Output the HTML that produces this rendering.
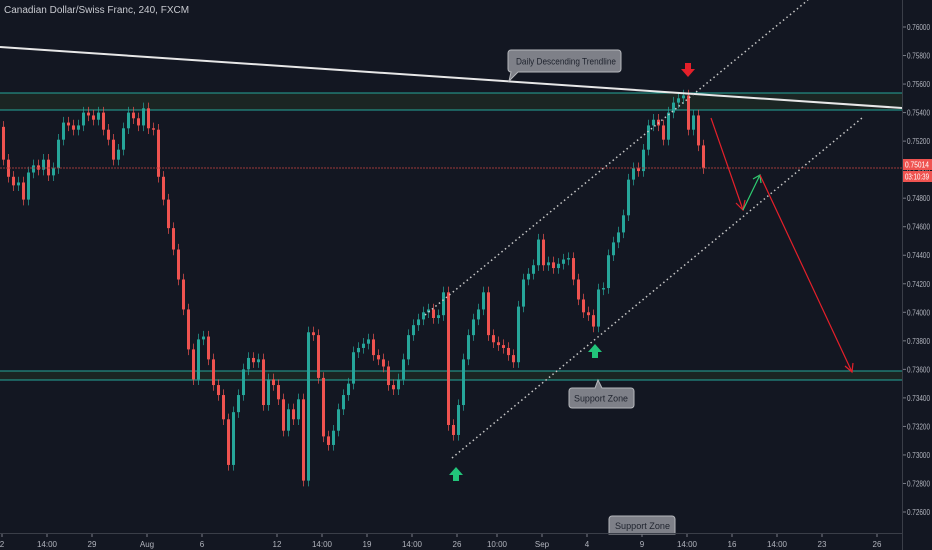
<!DOCTYPE html>
<html><head><meta charset="utf-8"><style>
body{margin:0;background:#131722;width:932px;height:550px;overflow:hidden;font-family:"Liberation Sans",sans-serif}
svg{display:block}
</style></head><body>
<svg id="chart" width="932" height="550" xmlns="http://www.w3.org/2000/svg">
<rect x="0" y="0" width="932" height="550" fill="#131722"/>
<g id="zones"></g>
<g id="candles"></g>
<g id="draw"></g>
<g id="axes"></g>
</svg>
<script>
const closes=[0.7507,0.7495,0.7489,0.7491,0.7479,0.7498,0.7503,0.7500,0.7507,0.7496,0.7501,0.7521,0.7533,0.7531,0.7528,0.7531,0.7540,0.7538,0.7535,0.7540,0.7528,0.7521,0.7507,0.7514,0.7529,0.7540,0.7536,0.7531,0.7543,0.7529,0.7528,0.7495,0.7479,0.7459,0.7444,0.7423,0.7402,0.7374,0.7353,0.7381,0.7383,0.7367,0.7349,0.7342,0.7325,0.7293,0.7330,0.7342,0.7360,0.7368,0.7365,0.7367,0.7335,0.7353,0.7349,0.7339,0.7317,0.7332,0.7325,0.7339,0.7282,0.7386,0.7384,0.7354,0.7313,0.7307,0.7317,0.7332,0.7342,0.7350,0.7372,0.7375,0.7378,0.7381,0.7370,0.7367,0.7362,0.7349,0.7346,0.7353,0.7367,0.7384,0.7391,0.7395,0.7400,0.7402,0.7396,0.7398,0.7414,0.7321,0.7314,0.7335,0.7367,0.7384,0.7395,0.7402,0.7414,0.7384,0.7379,0.7377,0.7375,0.7370,0.7365,0.7404,0.7423,0.7427,0.7433,0.7451,0.7433,0.7435,0.7431,0.7434,0.7437,0.7438,0.7423,0.7409,0.7400,0.7398,0.7390,0.7416,0.7417,0.7440,0.7449,0.7456,0.7468,0.7493,0.7501,0.7499,0.7514,0.7531,0.7535,0.7531,0.7521,0.7540,0.7547,0.7550,0.7552,0.7528,0.7538,0.7517,0.7501];
const firstOpen=0.7530;
const priceTicks=[0.760,0.758,0.756,0.754,0.752,0.750,0.748,0.746,0.744,0.742,0.740,0.738,0.736,0.734,0.732,0.730,0.728,0.726];
const timeLabels=["2","14:00","29","Aug","6","12","14:00","19","14:00","26","10:00","Sep","4","9","14:00","16","14:00","23","26"];
const timeIdx=[0,9,18,29,40,55,64,73,82,91,99,108,117,128,137,146,155,164,175];
const NS="http://www.w3.org/2000/svg";
const yOf=p=>27+(0.760-p)*14265;
const xOf=i=>2+i*5;
function mk(parent,tag,attrs){const e=document.createElementNS(NS,tag);for(const k in attrs)e.setAttribute(k,attrs[k]);document.getElementById(parent).appendChild(e);return e;}
let z=mk('zones','rect',{x:0,y:93,width:902,height:17,fill:'#1b2523'});


z=mk('zones','rect',{x:0,y:371,width:902,height:9,fill:'#1b2523'});


[93,110,371,380].forEach(y=>{const l=mk('zones','line',{x1:0,x2:902,y1:y,y2:y,stroke:'#26a69a','stroke-width':1});

});
let prev=firstOpen;
closes.forEach((c,i)=>{const o=prev;prev=c;const up=c>=o;const col=up?'#26a69a':'#ef5350';
const x=xOf(i);const hi=Math.max(o,c)+0.0004,lo=Math.min(o,c)-0.0004;
const w=mk('candles','line',{x1:x+1.5,x2:x+1.5,y1:yOf(hi),y2:yOf(lo),stroke:col,'stroke-width':1,opacity:0.7});


const yt=yOf(Math.max(o,c)),yb=yOf(Math.min(o,c));
const b=mk('candles','rect',{x:x,y:yt,width:3,height:Math.max(1,yb-yt),fill:col});

});
const d=document.getElementById('draw');
d.innerHTML=`
<line x1="0" y1="47" x2="902" y2="108" stroke="#e8e8e8" stroke-width="2"/>
<line x1="425" y1="315" x2="808" y2="0" stroke="#c8c8c8" stroke-width="1.5" stroke-dasharray="1.5 3"/>
<line x1="452" y1="458" x2="862" y2="118" stroke="#c8c8c8" stroke-width="1.5" stroke-dasharray="1.5 3"/>
<line x1="0" y1="168" x2="902" y2="168" stroke="#9c3a3a" stroke-width="1" stroke-dasharray="2 1"/>
<g stroke-width="1.2" fill="none">
<line x1="711" y1="118" x2="743" y2="210" stroke="#e5202a"/>
<polyline points="736,203 743,210 745,200" stroke="#e5202a"/>
<line x1="743" y1="210" x2="760" y2="175" stroke="#2ecc71"/>
<polyline points="753,179 760,175 761,183" stroke="#2ecc71"/>
<line x1="760" y1="175" x2="852" y2="372" stroke="#e5202a"/>
<polyline points="845,366 852,372 853,363" stroke="#e5202a"/>
</g>
<g><path d="M685,63 h6 v6 h4 l-7,8 l-7,-8 h4z" fill="#e5202a"/></g>
<g><path d="M453,481 h6 v-6 h4 l-7,-8 l-7,8 h4z" fill="#22c47a"/></g>
<g><path d="M592,358 h6 v-6 h4 l-7,-8 l-7,8 h4z" fill="#22c47a"/></g>
<g>
<path d="M514,50 h104 a3,3 0 0 1 3,3 v16 a3,3 0 0 1 -3,3 h-100 l-9,9 l2,-9 a3,3 0 0 1 -3,-3 v-16 a3,3 0 0 1 3,-3z" fill="#7e8088" stroke="#b5b7bc"/>
<text x="516" y="64.5" font-size="9" fill="#1e222d" textLength="100" lengthAdjust="spacingAndGlyphs">Daily Descending Trendline</text></g>
<g>
<path d="M572,388 h23 l3,-8 l4,8 h29 a3,3 0 0 1 3,3 v14 a3,3 0 0 1 -3,3 h-59 a3,3 0 0 1 -3,-3 v-14 a3,3 0 0 1 3,-3z" fill="#7e8088" stroke="#b5b7bc"/>
<text x="574" y="401.5" font-size="9" fill="#1e222d" textLength="54" lengthAdjust="spacingAndGlyphs">Support Zone</text></g>
<g>
<path d="M612,516 h60 a3,3 0 0 1 3,3 v15 h-66 v-15 a3,3 0 0 1 3,-3z" fill="#7e8088" stroke="#b5b7bc"/>
<text x="615" y="529" font-size="9" fill="#1e222d" textLength="55" lengthAdjust="spacingAndGlyphs">Support Zone</text></g>
<text x="4" y="13" font-size="10" fill="#c8cad0">Canadian Dollar/Swiss Franc, 240, FXCM</text>`;
const a=document.getElementById('axes');
a.innerHTML=`<line x1="902.5" y1="0" x2="902.5" y2="550" stroke="#3a3e48"/>
<line x1="0" y1="533.5" x2="902" y2="533.5" stroke="#3a3e48"/>`;
priceTicks.forEach(p=>{const y=yOf(p);
const t=mk('axes','line',{x1:903,x2:906,y1:y,y2:y,stroke:'#787b86'});


const l=mk('axes','text',{x:907,y:y+3,'font-size':8,fill:'#b2b5be',textLength:23,lengthAdjust:'spacingAndGlyphs'});l.textContent=p.toFixed(5);

});
timeLabels.forEach((s,i)=>{const x=xOf(timeIdx[i]);
const t=mk('axes','line',{x1:x,x2:x,y1:534,y2:537,stroke:'#787b86'});


const l=mk('axes','text',{x:x,y:547,'font-size':8,fill:'#b2b5be','text-anchor':'middle'});l.textContent=s;

});
a.insertAdjacentHTML('beforeend',`<g><rect x="903" y="159" width="29" height="11" fill="#ef5350"/><text x="905" y="167.5" font-size="8" fill="#fff" textLength="24" lengthAdjust="spacingAndGlyphs">0.75014</text>
<rect x="903" y="171" width="29" height="11" fill="#ef5350"/><text x="905" y="179.5" font-size="8" fill="#fff" textLength="24" lengthAdjust="spacingAndGlyphs">03:10:39</text></g>`);
</script>
</body></html>
